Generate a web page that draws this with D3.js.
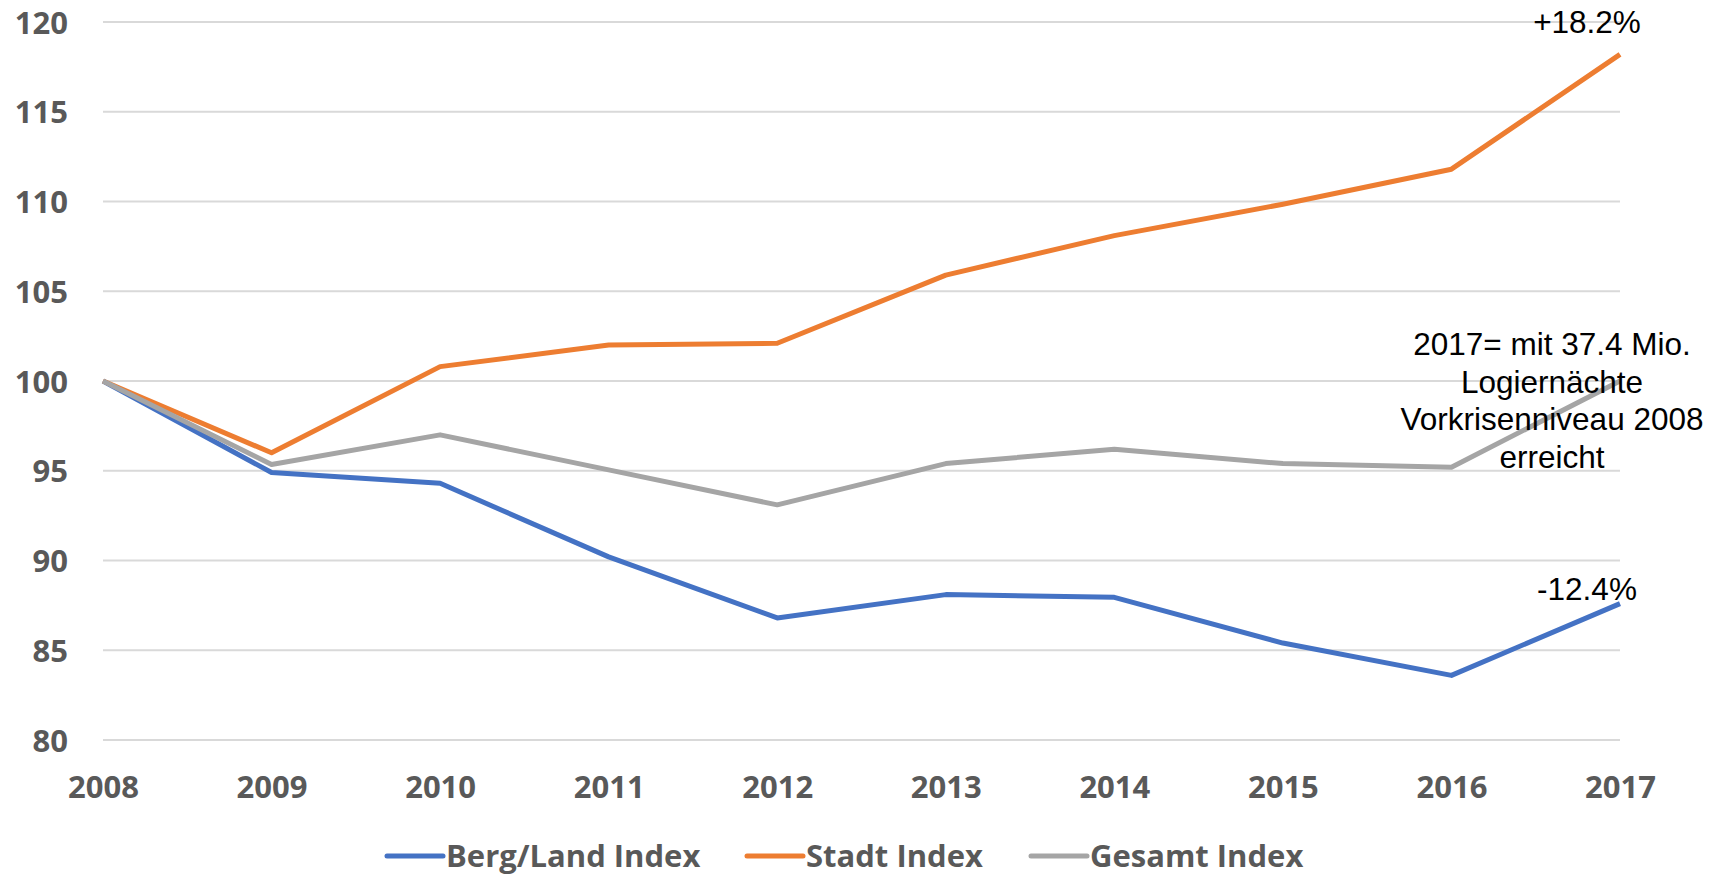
<!DOCTYPE html>
<html>
<head>
  <meta charset="utf-8">
  <title>Logiernächte Index</title>
  <script src="https://d3js.org/d3.v7.min.js"></script>
  <style>
    * {
        margin: 0;
        box-sizing: border-box;
    }
    body { background: #fff; }
    .grid line {
      stroke: #d9d9d9;
      stroke-width: 2px;
    }
    .tick text {
      font: 700 31px "Open Sans", sans-serif;
      fill: #595959;
    }
    .series {
      fill: none;
      stroke-width: 5px;
      stroke-linejoin: round;
    }
    .note {
      font: 31.5px "Liberation Sans", Arial, sans-serif;
      fill: #000;
      text-anchor: middle;
    }
    .legend text {
      font: 700 31px "Open Sans", sans-serif;
      fill: #595959;
    }
  </style>
</head>
<body>
  <script>
    const years = [2008, 2009, 2010, 2011, 2012, 2013, 2014, 2015, 2016, 2017];
    const bergLand = [100, 94.9, 94.3, 90.2, 86.8, 88.1, 87.95, 85.4, 83.6, 87.6];
    const stadt = [100, 96.0, 100.8, 102.0, 102.1, 105.9, 108.1, 109.85, 111.8, 118.2];
    const gesamt = [100, 95.35, 97.0, 95.05, 93.1, 95.4, 96.2, 95.4, 95.2, 100];
    const yTicks = [80, 85, 90, 95, 100, 105, 110, 115, 120];

    const seriesList = [
      { name: "Berg/Land Index", values: bergLand, color: "#4472c4" },
      { name: "Stadt Index", values: stadt, color: "#ed7d31" },
      { name: "Gesamt Index", values: gesamt, color: "#a5a5a5" }
    ];

    const width = 1723;
    const height = 875;

    const svg = d3.select("body").append("svg")
      .attr("width", width)
      .attr("height", height);

    const x = d3.scaleLinear().domain([2008, 2017]).range([103, 1620]);
    const y = d3.scaleLinear().domain([80, 120]).range([740, 22]);

    // gridlines
    svg.append("g")
      .attr("class", "grid")
      .selectAll("line")
      .data(yTicks)
      .enter().append("line")
      .attr("x1", x(2008))
      .attr("x2", x(2017))
      .attr("y1", d => y(d))
      .attr("y2", d => y(d));

    // y axis labels
    const yAxis = svg.append("g")
      .attr("transform", "translate(68,0)")
      .call(d3.axisLeft(y).tickValues(yTicks).tickSize(0).tickPadding(0));
    yAxis.select(".domain").remove();
    yAxis.selectAll("text").attr("dy", "0.36em");

    // x axis labels
    const xAxis = svg.append("g")
      .attr("transform", "translate(0,776)")
      .call(d3.axisBottom(x).tickValues(years).tickFormat(d3.format("d")).tickSize(0).tickPadding(0));
    xAxis.select(".domain").remove();

    const line = d3.line()
      .x((d, i) => x(years[i]))
      .y(d => y(d));

    svg.selectAll(".series")
      .data(seriesList)
      .enter().append("path")
      .attr("class", "series")
      .attr("stroke", d => d.color)
      .attr("d", d => line(d.values));

    // annotations
    svg.append("text").attr("class", "note")
      .attr("x", 1587).attr("y", 33).text("+18.2%");
    svg.append("text").attr("class", "note")
      .attr("x", 1587).attr("y", 600).text("-12.4%");

    const noteLines = ["2017= mit 37.4 Mio.", "Logiernächte", "Vorkrisenniveau 2008", "erreicht"];
    svg.append("text").attr("class", "note")
      .selectAll("tspan")
      .data(noteLines)
      .enter().append("tspan")
      .attr("x", 1552)
      .attr("y", (d, i) => 355 + i * 37.7)
      .text(d => d);

    // legend
    const legendX = [387, 747, 1031];
    const legend = svg.append("g").attr("class", "legend");
    const items = legend.selectAll("g")
      .data(seriesList)
      .enter().append("g")
      .attr("transform", (d, i) => `translate(${legendX[i]},856)`);
    items.append("line")
      .attr("x1", 0).attr("x2", 56)
      .attr("stroke", d => d.color)
      .attr("stroke-width", 5)
      .attr("stroke-linecap", "round");
    items.append("text")
      .attr("x", 59)
      .attr("dy", "0.36em")
      .text(d => d.name);
  </script>
</body>
</html>
